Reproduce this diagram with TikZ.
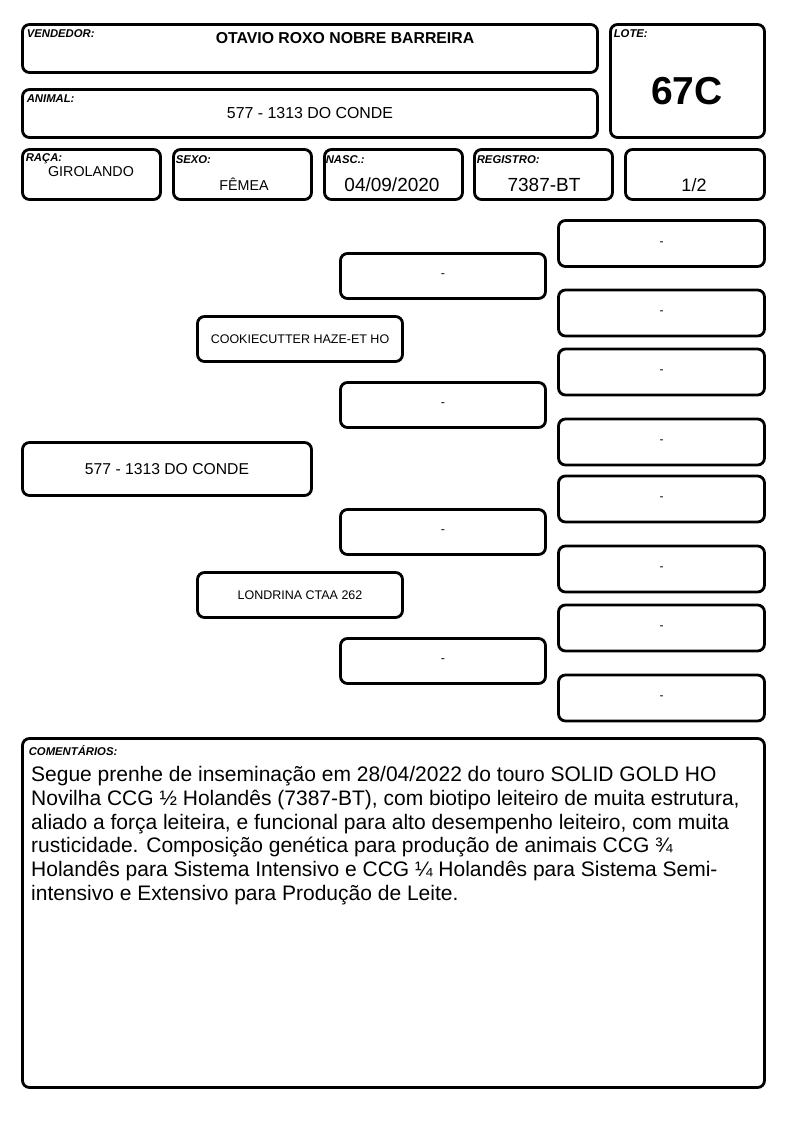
\documentclass[tikz,border=0pt]{standalone}
\usepackage{fontspec}
\setmainfont{Liberation Sans}
\usetikzlibrary{positioning}

\begin{document}
\begin{tikzpicture}[x=1pt, y=-1pt]
\tikzstyle{card} = [rectangle, rounded corners=7pt, draw=black,
  line width=2.8pt, inner sep=0pt, text centered]
\tikzstyle{tag} = [inner sep=0pt,
  font=\fontsize{11.3}{13}\selectfont\bfseries\itshape]
\tikzstyle{val} = [inner sep=0pt, font=\fontsize{14.3}{16}\selectfont]
\tikzstyle{big} = [inner sep=0pt, font=\fontsize{19}{21}\selectfont]
\tikzstyle{anc} = [card, minimum width=205pt, minimum height=45pt,
  font=\fontsize{12.5}{14}\selectfont]
\tikzstyle{far} = [card, minimum width=206pt, minimum height=46pt,
  font=\fontsize{12}{14}\selectfont]

\useasboundingbox (0,0) rectangle (794,1123);

% header
\node[card, minimum width=575pt, minimum height=48pt] (vend) at (310,48.5) {};
\node[tag, below right=6.5pt and 5.5pt of vend.north west] (vendtag) {VENDEDOR:};
\node[inner sep=0pt, font=\fontsize{15.8}{18}\selectfont\bfseries] (vendval)
  at (345,38) {OTAVIO ROXO NOBRE BARREIRA};

\node[card, minimum width=575pt, minimum height=48pt] (anim) at (310,113.5) {};
\node[tag, below right=6pt and 5.5pt of anim.north west] (animtag) {ANIMAL:};
\node[inner sep=0pt, font=\fontsize{15.9}{18}\selectfont] (animval)
  at (310,113) {577 - 1313 DO CONDE};

\node[card, minimum width=154pt, minimum height=113pt] (lote) at (687.5,81) {};
\node[tag, below right=6.5pt and 4.5pt of lote.north west] (lotetag) {LOTE:};
\node[inner sep=0pt, font=\fontsize{39}{42}\selectfont\bfseries] (loteval)
  at (687,91) {67C};

% second row
\node[card, minimum width=138pt, minimum height=50pt] (raca) at (91.5,174.5) {};
\node[tag, below right=5.5pt and 4.5pt of raca.north west] (racatag) {RAÇA:};
\node[val] (racaval) at (91,172) {GIROLANDO};

\node[card, minimum width=138pt, minimum height=50pt] (sexo) at (242.5,174.5) {};
\node[tag, below right=7.5pt and 3.5pt of sexo.north west] (sexotag) {SEXO:};
\node[val] (sexoval) at (244,184) {FÊMEA};

\node[card, minimum width=138pt, minimum height=50pt] (nasc) at (393.5,174.5) {};
\node[tag, below right=7.5pt and 2.5pt of nasc.north west] (nasctag) {NASC.:};
\node[big] (nascval) at (392,185) {04/09/2020};

\node[card, minimum width=138pt, minimum height=50pt] (reg) at (543.5,174.5) {};
\node[tag, below right=7.5pt and 3.5pt of reg.north west] (regtag) {REGISTRO:};
\node[big] (regval) at (544,185) {7387-BT};

\node[card, minimum width=139pt, minimum height=50pt] (frac) at (695,174.5) {};
\node[inner sep=0pt, font=\fontsize{18}{20}\selectfont] (fracval)
  at (694,185) {1/2};

% pedigree
\node[card, minimum width=289pt, minimum height=53pt,
  font=\fontsize{15.7}{18}\selectfont] (self) at (167,469) {577 - 1313 DO CONDE};

\node[anc] (sire) at (300,339) {COOKIECUTTER HAZE-ET HO};
\node[anc] (dam) at (300,595) {LONDRINA CTAA 262};

\node[anc] (ss) at (443,276) {-};
\node[anc] (sd) at (443,405) {-};
\node[anc] (ds) at (443,532) {-};
\node[anc] (dd) at (443,661) {-};

\node[far] (sss) at (661.5,243.5) {-};
\node[far] (ssd) at (661.5,313) {-};
\node[far] (sds) at (661.5,372) {-};
\node[far] (sdd) at (661.5,442) {-};
\node[far] (dss) at (661.5,499) {-};
\node[far] (dsd) at (661.5,569) {-};
\node[far] (dds) at (661.5,628) {-};
\node[far] (ddd) at (661.5,698) {-};

% comments
\node[card, minimum width=742pt, minimum height=349pt] (com) at (393.5,913) {};
\node[tag, below right=8.5pt and 7.5pt of com.north west] (comtag) {COMENTÁRIOS:};
\node[inner sep=0pt, anchor=north west, align=left,
  font=\fontsize{21}{23.8}\selectfont] (comtext) at (31,766)
  {Segue prenhe de inseminação em 28/04/2022 do touro SOLID GOLD HO\\
   Novilha CCG ½ Holandês (7387-BT), com biotipo leiteiro de muita estrutura,\\
   aliado a força leiteira, e funcional para alto desempenho leiteiro, com muita\\
   rusticidade. Composição genética para produção de animais CCG ¾\\
   Holandês para Sistema Intensivo e CCG ¼ Holandês para Sistema Semi-\\
   intensivo e Extensivo para Produção de Leite.};
\end{tikzpicture}
\end{document}
